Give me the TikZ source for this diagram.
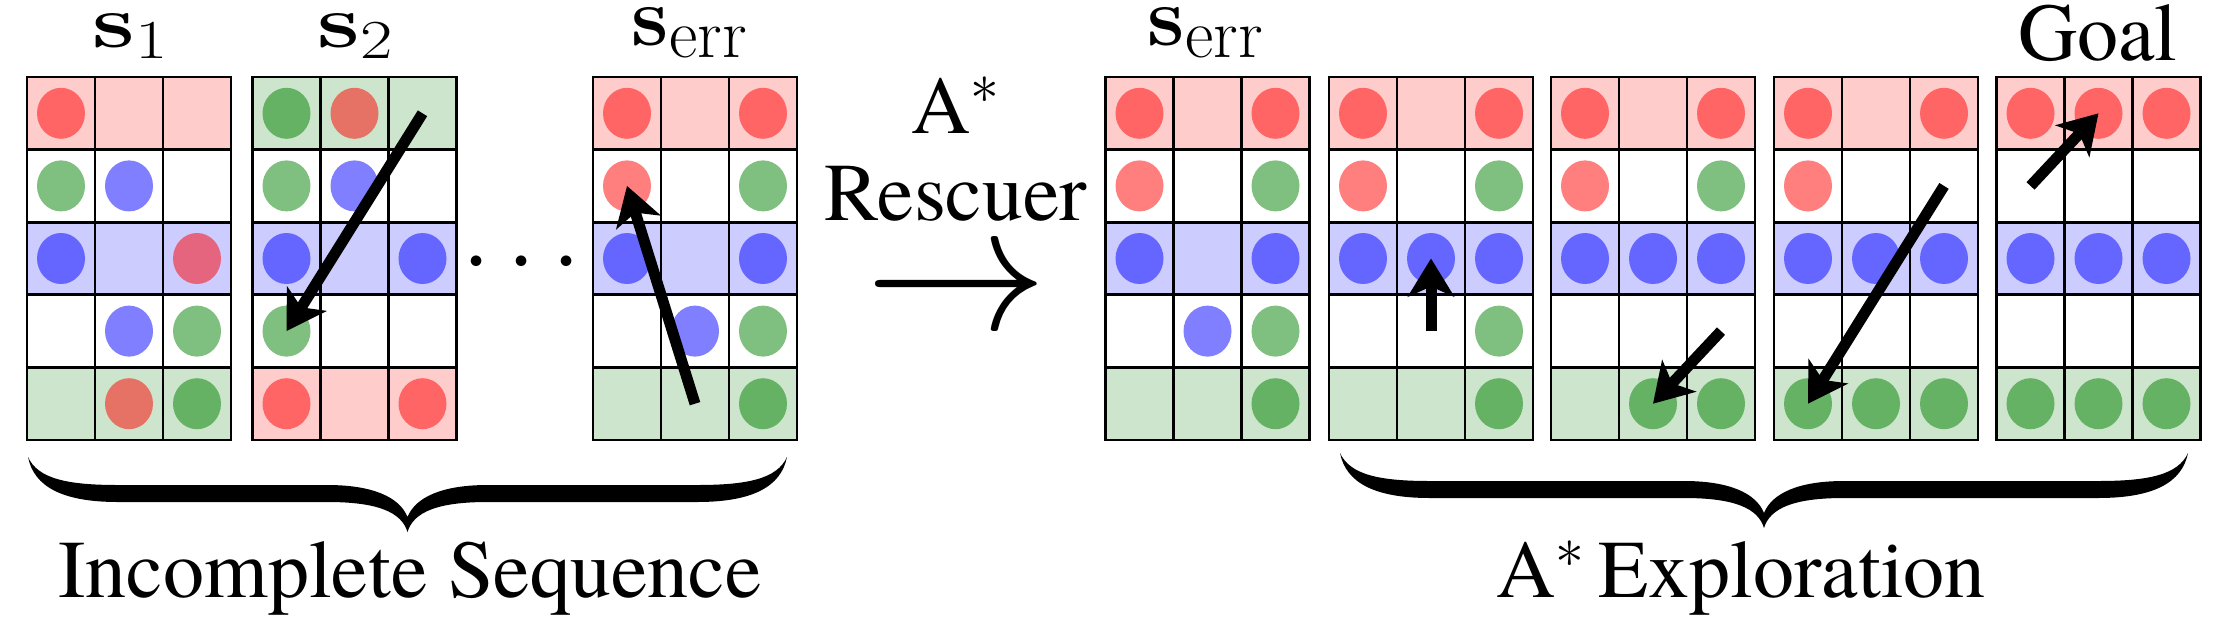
\documentclass[tikz,border=0pt]{standalone}
\usepackage{fix-cm}
\usepackage[no-math]{fontspec}
\setmainfont{texgyretermes-regular.otf}
\usepackage{amsmath,amssymb}
\usepackage{graphicx}
\usepackage{xcolor}
\usepackage{tikz}
\usetikzlibrary{arrows.meta,positioning}

\colorlet{dgreen}{green!50!black}

% bold state name with a subscript of its own size
\newcommand{\statename}[2]{$\mathbf{s}_{\mbox{\fontsize{#2}{#2}\selectfont$\mathrm{#1}$}}$}

% a 5x3 state: name, left x, row colours, balls (row/col/colour)
\newcommand{\stategrid}[4]{%
  \foreach \bc [count=\ri] in {#3} {
    \foreach \ci in {1,2,3}
      \node[cell, fill=\bc!20] (#1-\ri-\ci) at ({#2+(\ci-0.5)*68}, {77+(\ri-0.5)*72.6}) {};
  }
  \foreach \ri/\ci/\bc in {#4}
    \fill[ball=\bc] (#1-\ri-\ci.center) ellipse [x radius=12pt, y radius=12.75pt];
}

% thick curly brace under a row of states: left x, right x, top y
\newcommand{\bigbrace}[3]{%
  \pgfmathsetmacro\bracemid{(#1+#2)/2}
  \fill (#1,#3) .. controls ({#1+6},{#3+30}) and ({#1+35},{#3+45}) .. ({#1+90},{#3+45})
    -- ({\bracemid-80},{#3+45}) .. controls ({\bracemid-30},{#3+45}) and ({\bracemid-6},{#3+55}) .. (\bracemid,{#3+75})
    .. controls ({\bracemid+6},{#3+55}) and ({\bracemid+30},{#3+45}) .. ({\bracemid+80},{#3+45})
    -- ({#2-90},{#3+45}) .. controls ({#2-35},{#3+45}) and ({#2-6},{#3+30}) .. (#2,#3)
    .. controls ({#2-10},{#3+22}) and ({#2-40},{#3+28}) .. ({#2-90},{#3+28})
    -- ({\bracemid+80},{#3+28}) .. controls ({\bracemid+35},{#3+28}) and ({\bracemid+8},{#3+40}) .. (\bracemid,{#3+60})
    .. controls ({\bracemid-8},{#3+40}) and ({\bracemid-35},{#3+28}) .. ({\bracemid-80},{#3+28})
    -- ({#1+90},{#3+28}) .. controls ({#1+40},{#3+28}) and ({#1+10},{#3+22}) .. cycle;
}

\begin{document}
\begin{tikzpicture}[
  x=0.5pt, y=-0.5pt,
  cell/.style={draw, line width=1.4pt, minimum width=34pt, minimum height=36.3pt, inner sep=0pt, outer sep=0pt},
  ball/.style={fill=#1, fill opacity=0.5},
  ballmove/.style={-{Stealth[length=19pt, width=23pt, inset=5pt]}, line width=5.5pt},
  bigtext/.style={font=\fontsize{41}{43.5}\selectfont, inner sep=0pt},
  statelabel/.style={font=\fontsize{30}{36}\selectfont, inner sep=0pt}
]
\useasboundingbox (0,0) rectangle (2228,617);

% incomplete sequence
\stategrid{s1}{27}{red,white,blue,white,dgreen}
  {1/1/red, 2/1/dgreen, 2/2/blue, 3/1/blue, 3/3/red, 4/2/blue, 4/3/dgreen, 5/2/red, 5/3/dgreen}
\stategrid{s2}{252.5}{dgreen,white,blue,white,red}
  {1/1/dgreen, 1/2/red, 2/1/dgreen, 2/2/blue, 3/1/blue, 3/3/blue, 4/1/dgreen, 5/1/red, 5/3/red}
\stategrid{serr}{593}{red,white,blue,white,dgreen}
  {1/1/red, 1/3/red, 2/1/red, 2/3/dgreen, 3/1/blue, 3/3/blue, 4/2/blue, 4/3/dgreen, 5/3/dgreen}

% A* exploration
\stategrid{serrb}{1105.5}{red,white,blue,white,dgreen}
  {1/1/red, 1/3/red, 2/1/red, 2/3/dgreen, 3/1/blue, 3/3/blue, 4/2/blue, 4/3/dgreen, 5/3/dgreen}
\stategrid{ex1}{1329}{red,white,blue,white,dgreen}
  {1/1/red, 1/3/red, 2/1/red, 2/3/dgreen, 3/1/blue, 3/2/blue, 3/3/blue, 4/3/dgreen, 5/3/dgreen}
\stategrid{ex2}{1551}{red,white,blue,white,dgreen}
  {1/1/red, 1/3/red, 2/1/red, 2/3/dgreen, 3/1/blue, 3/2/blue, 3/3/blue, 5/2/dgreen, 5/3/dgreen}
\stategrid{ex3}{1774}{red,white,blue,white,dgreen}
  {1/1/red, 1/3/red, 2/1/red, 3/1/blue, 3/2/blue, 3/3/blue, 5/1/dgreen, 5/2/dgreen, 5/3/dgreen}
\stategrid{goal}{1996.5}{red,white,blue,white,dgreen}
  {1/1/red, 1/2/red, 1/3/red, 3/1/blue, 3/2/blue, 3/3/blue, 5/1/dgreen, 5/2/dgreen, 5/3/dgreen}

\draw[ballmove] (s2-1-3.center) -- (s2-4-1.center);
\draw[ballmove] (serr-5-2.center) -- (serr-2-1.center);
\draw[ballmove] (ex1-4-2.center) -- (ex1-3-2.center);
\draw[ballmove] (ex2-4-3.center) -- (ex2-5-2.center);
\draw[ballmove] (ex3-2-3.center) -- (ex3-5-1.center);
\draw[ballmove] (goal-2-1.center) -- (goal-1-2.center);

\node[statelabel, anchor=base] (s1 label) at (131,47) {\scalebox{1.6}[1.25]{\statename{1}{22}}};
\node[statelabel, anchor=base] (s2 label) at (356,47) {\scalebox{1.6}[1.25]{\statename{2}{22}}};
\node[statelabel, anchor=base, font=\fontsize{35}{40}\selectfont] (serr label) at (690,45) {\scalebox{1.2}{\statename{err}{29}}};
\node[statelabel, anchor=base, font=\fontsize{35}{40}\selectfont] (serrb label) at (1206,45) {\scalebox{1.2}{\statename{err}{29}}};
\node[bigtext, anchor=base] (goal label) at (2098,60) {Goal};

\node[anchor=base, inner sep=0pt, font=\fontsize{50.5}{50}\selectfont] (dots) at (530,286) {$\cdots$};

\node[bigtext, anchor=base, align=center] (rescuer) at (956,220) {A$^*$\\Rescuer};
\node[anchor=base, inner sep=0pt, font=\fontsize{91}{91}\selectfont] (rescue arrow) at (956,329) {$\rightarrow$};

\bigbrace{28}{787}{457}
\bigbrace{1340}{2188}{453}
\node[bigtext, anchor=base] (incomplete) at (410,597) {Incomplete Sequence};
\node[bigtext, anchor=base] (exploration) at (1741,597) {A$^*$\,Exploration};
\end{tikzpicture}
\end{document}
